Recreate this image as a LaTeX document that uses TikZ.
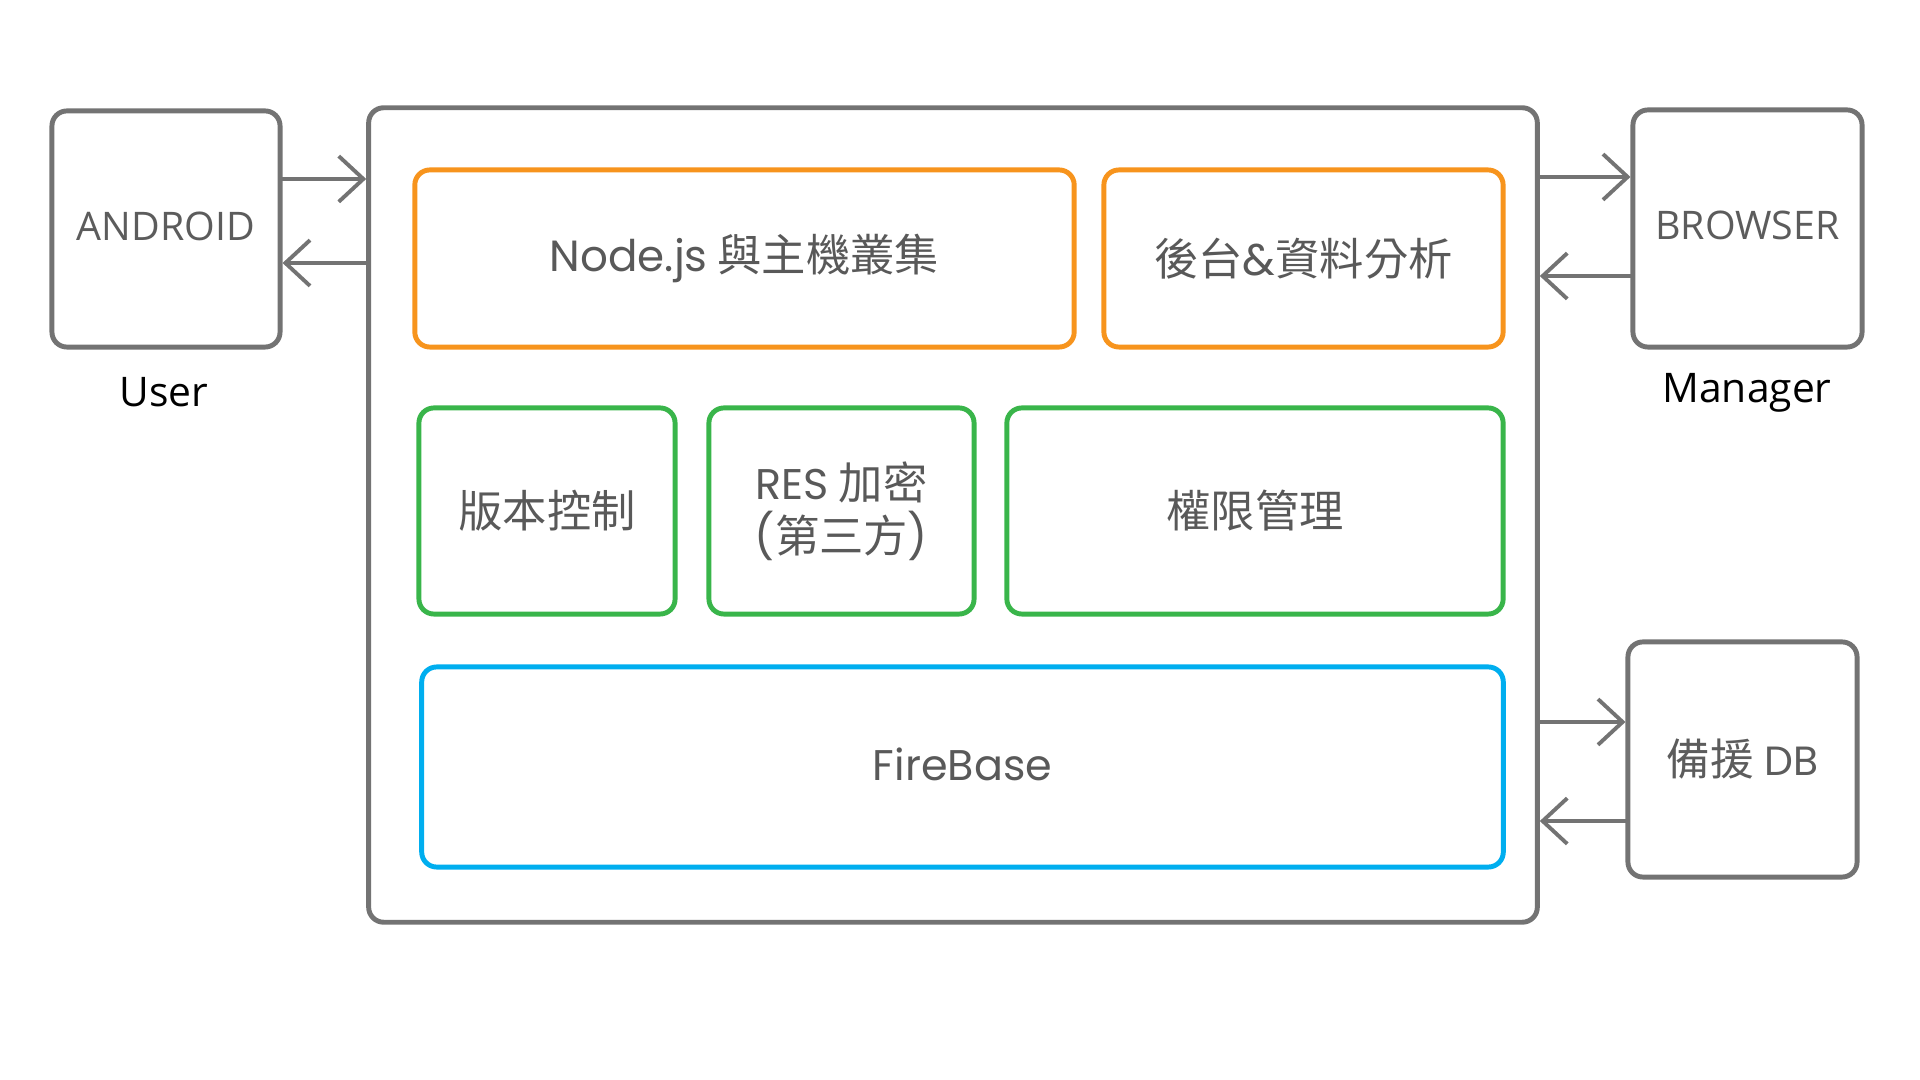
\documentclass[tikz,border=0pt]{standalone}
\usepackage{fontspec}
\setmainfont{Open Sans}
\newfontfamily\cjk{Noto Sans CJK TC}
\newfontfamily\geo{Poppins}
\usetikzlibrary{arrows.meta}
\definecolor{huise}{HTML}{737373}
\definecolor{wenzi}{HTML}{595959}
\definecolor{cheng}{HTML}{F7941D}
\definecolor{lv}{HTML}{39B54A}
\definecolor{lan}{HTML}{00AEEF}
\begin{document}
\begin{tikzpicture}[x=0.01cm,y=-0.01cm,line cap=round]
	\tikzstyle{kuang}=[draw=huise,line width=1.4pt,rounded corners=1.5mm,inner sep=0pt,text=wenzi!90!huise,font=\fontsize{11.2pt}{13pt}\selectfont];
	\tikzstyle{tile1}=[draw=cheng,line width=1.4pt,rounded corners=1.5mm,inner sep=0pt,text=wenzi,font=\fontsize{12.6pt}{15pt}\selectfont\cjk];
	\tikzstyle{tile2}=[tile1,draw=lv];
	\tikzstyle{tile3}=[tile1,draw=lan];
	\tikzstyle{ming}=[text=black,font=\fontsize{11.6pt}{14pt}\selectfont];
	\tikzstyle{jiantou}=[draw=huise,line width=1.1pt,-{Straight Barb[length=7pt,width=13pt]}];
	\useasboundingbox (0,0) rectangle (1920,1080);

	% outside boxes
	\node[kuang,minimum width=2.28cm,minimum height=2.36cm] (android) at (166,229) {\raisebox{0.6mm}{ANDROID}};
	\node[kuang,minimum width=11.68cm,minimum height=8.14cm] (main) at (953,515) {};
	\node[kuang,minimum width=2.29cm,minimum height=2.37cm] (browser) at (1747.5,228.5) {\raisebox{0.6mm}{BROWSER}};
	\node[kuang,minimum width=2.29cm,minimum height=2.35cm] (db) at (1742.5,759.5) {{\cjk\fontsize{12.4pt}{15pt}\selectfont 備援} {\geo\fontsize{11.6pt}{15pt}\selectfont DB}};
	\node[ming] (user) at (164,392) {User};
	\node[ming] (manager) at (1747,393) {Manager};

	% inside
	\node[tile1,minimum width=6.59cm,minimum height=1.77cm] (nodejs) at (744.5,258.5) {{\geo\fontsize{12.4pt}{15pt}\selectfont Node.js} 與主機叢集};
	\node[tile1,minimum width=3.99cm,minimum height=1.77cm] (houtai) at (1303.5,258.5) {後台{\geo\&}資料分析};
	\node[tile2,minimum width=2.56cm,minimum height=2.06cm] (banben) at (547,511) {版本控制};
	\node[tile2,minimum width=2.65cm,minimum height=2.06cm,align=center] (res) at (841.5,511) {{\geo\fontsize{12.2pt}{15pt}\selectfont RES} 加密\\{\geo(}第三方{\geo)}};
	\node[tile2,minimum width=4.96cm,minimum height=2.06cm] (quanxian) at (1255,511) {權限管理};
	\node[tile3,minimum width=10.81cm,minimum height=2.0cm] (firebase) at (962.5,767) {\raisebox{0.6mm}{\geo\fontsize{12.2pt}{15pt}\selectfont FireBase}};

	% arrows
	\path ([yshift=5mm]android.east) coordinate (a1) ([yshift=-3.4mm]android.east) coordinate (a2);
	\draw[jiantou] (a1) -- (a1 -| main.west);
	\draw[jiantou] (a2 -| main.west) -- (a2);
	\path ([yshift=5.15mm]browser.west) coordinate (b1) ([yshift=-4.75mm]browser.west) coordinate (b2);
	\draw[jiantou] (b1 -| main.east) -- (b1);
	\draw[jiantou] (b2) -- (b2 -| main.east);
	\path ([yshift=3.75mm]db.west) coordinate (d1) ([yshift=-6.15mm]db.west) coordinate (d2);
	\draw[jiantou] (d1 -| main.east) -- (d1);
	\draw[jiantou] (d2) -- (d2 -| main.east);
\end{tikzpicture}
\end{document}
